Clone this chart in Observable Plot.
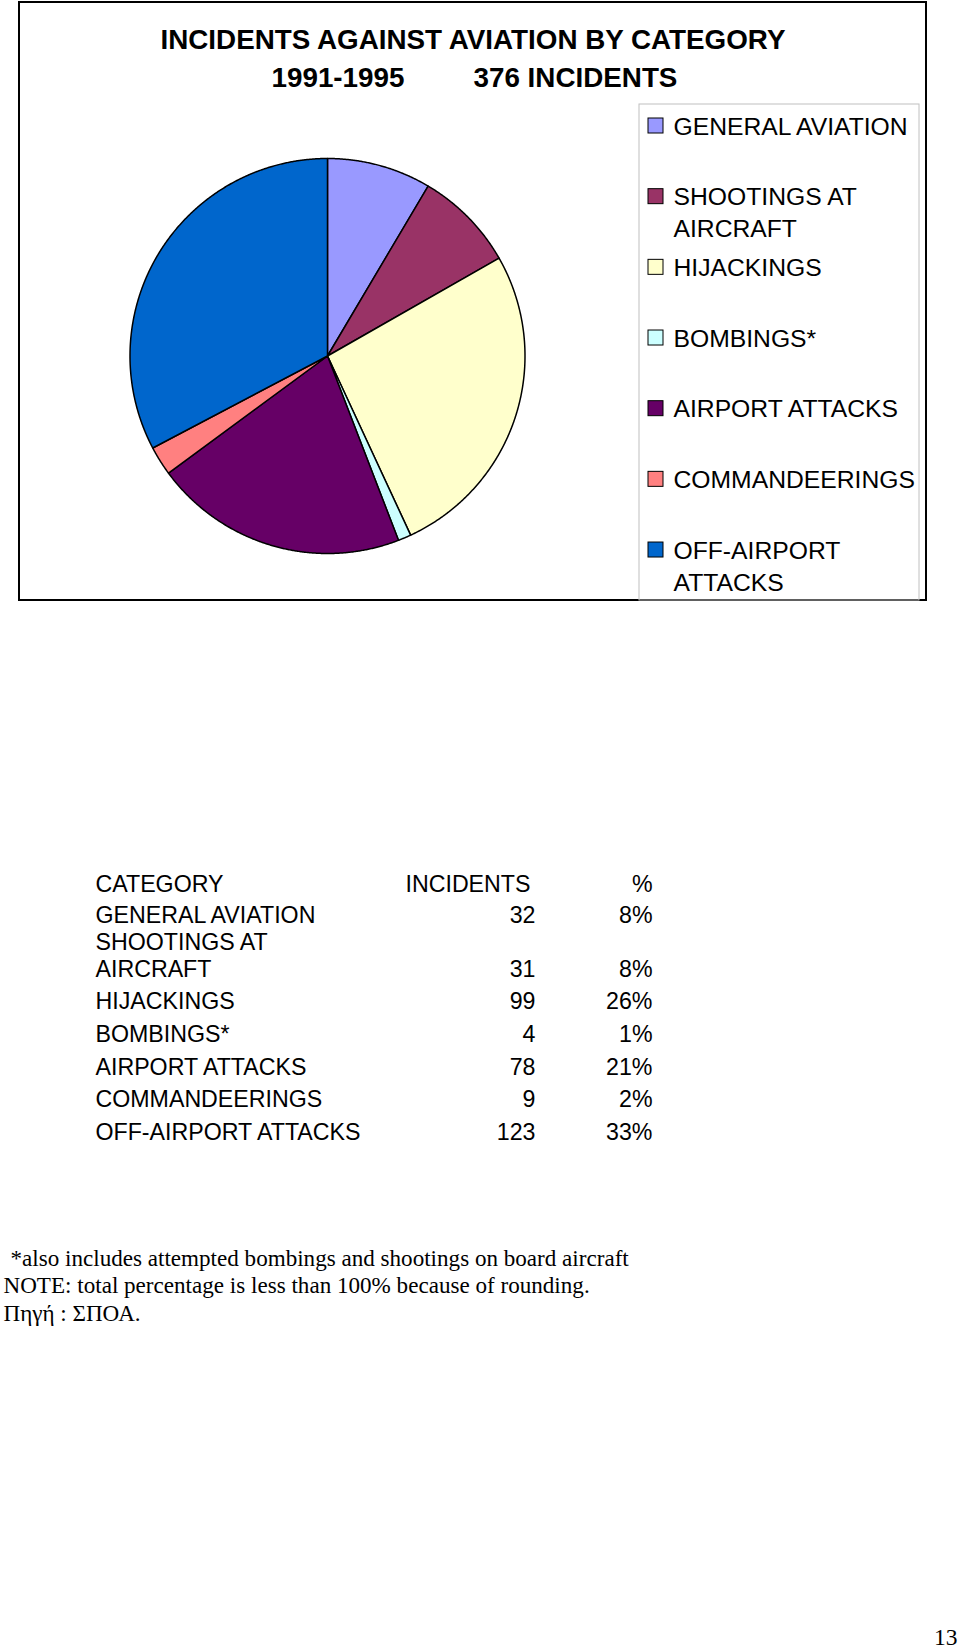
<!DOCTYPE html>
<html><head><meta charset="utf-8">
<script src="https://cdn.jsdelivr.net/npm/d3@7"></script>
<script src="https://cdn.jsdelivr.net/npm/@observablehq/plot@0.6"></script>
<style>body{margin:0;background:#fff}</style>
</head><body>
<script>
// ---- data ----
const categories = ["GENERAL AVIATION","SHOOTINGS AT AIRCRAFT","HIJACKINGS","BOMBINGS*","AIRPORT ATTACKS","COMMANDEERINGS","OFF-AIRPORT ATTACKS"];
const incidents = [32, 31, 99, 4, 78, 9, 123];
const percents = [8, 8, 26, 1, 21, 2, 33];
const colors = ["#9999FF","#993366","#FFFFCC","#CCFFFF","#660066","#FF8080","#0066CC"];
const legendLabels = ["GENERAL AVIATION","SHOOTINGS AT\nAIRCRAFT","HIJACKINGS","BOMBINGS*","AIRPORT ATTACKS","COMMANDEERINGS","OFF-AIRPORT\nATTACKS"];
const tableLabels = ["GENERAL AVIATION","SHOOTINGS AT\nAIRCRAFT","HIJACKINGS","BOMBINGS*","AIRPORT ATTACKS","COMMANDEERINGS","OFF-AIRPORT ATTACKS"];
const tableHeaders = ["CATEGORY","INCIDENTS","%"];
const title = "INCIDENTS AGAINST AVIATION BY CATEGORY";
const period = "1991-1995";
const totalLabel = "376 INCIDENTS";
const footnotes = ["*also includes attempted bombings and shootings on board aircraft","NOTE: total percentage is less than 100% because of rounding.","Πηγή : ΣΠΟΑ."];
const pageNumber = "13";

// ---- layout (pixel space) ----
const W = 960, H = 1650;
const cx = 327, cy = 355.5, R = 197.5;
const sans = "'Liberation Sans', Arial, sans-serif";
const serif = "'Liberation Serif', 'Times New Roman', serif";

// pie polygons
const arcs = d3.pie().sort(null).value(d => d.value)(categories.map((c, i) => ({category: c, value: incidents[i]})));
const piePts = arcs.flatMap(a => {
  const n = Math.max(2, Math.ceil((a.endAngle - a.startAngle) / 0.005));
  const pts = [{category: a.data.category, x: cx, y: cy}];
  for (let k = 0; k <= n; k++) {
    const t = a.startAngle + (a.endAngle - a.startAngle) * k / n;
    pts.push({category: a.data.category, x: cx + R * Math.sin(t), y: cy - R * Math.cos(t)});
  }
  return pts;
});

// legend
const legendItems = categories.map((c, i) => ({category: c, y: 134 + i * 70.67}));
const legendLines = legendLabels.flatMap((lab, i) => lab.split("\n").map((t, j) => ({text: t, y: legendItems[i].y + j * 32})));

// table (rows bottom-aligned, like spreadsheet cells)
const tableLines = [], tableNums = [];
const headerY = 891;
let prev = headerY;
tableLabels.forEach((lab, i) => {
  const lines = lab.split("\n");
  const n = lines.length;
  const last = prev + (i === 0 ? 31.6 : 32.6) + (n - 1) * 21.1;
  lines.forEach((t, j) => tableLines.push({text: t, y: last - (n - 1 - j) * 26.5}));
  tableNums.push({n: String(incidents[i]), p: percents[i] + "%", y: last});
  prev = last;
});

const footRows = footnotes.map((t, i) => ({text: t, x: i === 0 ? 10 : 3, y: 1265 + i * 27.5}));

const tSans = (extra) => Object.assign({textAnchor: "start", lineAnchor: "bottom", fontFamily: sans, fill: "black"}, extra);

const chart = Plot.plot({
  width: W, height: H, margin: 0,
  x: {domain: [0, W], range: [0, W], axis: null},
  y: {domain: [0, H], range: [0, H], axis: null},
  color: {type: "ordinal", domain: categories, range: colors},
  marks: [
    Plot.rect([0], {x1: 19, x2: 926, y1: 2, y2: 600, fill: "white", stroke: "black", strokeWidth: 2}),
    Plot.rect([0], {x1: 639, x2: 919, y1: 104, y2: 600, fill: "none", stroke: "#c0c0c0", strokeWidth: 1}),
    Plot.line(piePts, {x: "x", y: "y", z: "category", fill: "category", stroke: "black", strokeWidth: 1.5, curve: "linear-closed", strokeLinejoin: "round"}),
    Plot.text([title], tSans({x: 160, y: 48.5, text: d => d, fontWeight: "bold", fontSize: 27.8})),
    Plot.text([period], tSans({x: 271, y: 86, text: d => d, fontWeight: "bold", fontSize: 27.8})),
    Plot.text([totalLabel], tSans({x: 473, y: 86, text: d => d, fontWeight: "bold", fontSize: 27.8})),
    Plot.rect(legendItems, {x1: 648, x2: 663, y1: d => d.y - 16, y2: d => d.y - 1, fill: "category", stroke: "black", strokeWidth: 1}),
    Plot.text(legendLines, tSans({x: 673, y: "y", text: "text", fontSize: 24.7})),
    Plot.text([tableHeaders[0]], tSans({x: 95, y: headerY, text: d => d, fontSize: 23.2})),
    Plot.text([tableHeaders[1]], tSans({x: 405, y: headerY, text: d => d, fontSize: 23.2})),
    Plot.text([tableHeaders[2]], tSans({x: 652, y: headerY, text: d => d, textAnchor: "end", fontSize: 23.2})),
    Plot.text(tableLines, tSans({x: 95, y: "y", text: "text", fontSize: 23.2})),
    Plot.text(tableNums, tSans({x: 535, y: "y", text: "n", textAnchor: "end", fontSize: 23.2})),
    Plot.text(tableNums, tSans({x: 652, y: "y", text: "p", textAnchor: "end", fontSize: 23.2})),
    Plot.text(footRows, {x: "x", y: "y", text: "text", textAnchor: "start", lineAnchor: "bottom", fontFamily: serif, fontSize: 23.1, fill: "black"}),
    Plot.text([pageNumber], {x: 957, y: 1644, text: d => d, textAnchor: "end", lineAnchor: "bottom", fontFamily: serif, fontSize: 23.5, fill: "black"})
  ]
});
document.body.append(chart);
</script>
</body></html>
